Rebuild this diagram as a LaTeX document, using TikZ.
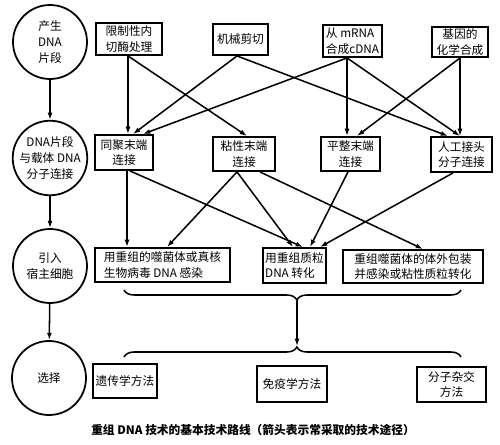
\documentclass[tikz,border=0pt]{standalone}
\usepackage{fontspec}
\setmainfont{Noto Sans CJK SC}
\usetikzlibrary{arrows.meta, decorations.pathreplacing, calc}

\begin{document}
\begin{tikzpicture}[
  x=0.03cm, y=-0.03cm,
  box/.style={draw, line width=1.6pt, align=center, inner sep=1pt, font=\fontsize{10}{13.5}\selectfont},
  stage/.style={draw, circle, line width=1.5pt, minimum size=2.22cm, inner sep=0pt, align=center, font=\fontsize{10}{13.5}\selectfont},
  arr/.style={-{Latex[length=2.2mm, width=1.5mm]}, line width=1.3pt},
  bracket/.style={decorate, line width=1.3pt},
  caption/.style={font=\fontsize{10}{12}\selectfont\bfseries}
]
\useasboundingbox (0,0) rectangle (500,444);

% stages on the left
\node[stage] (produce) at (50,42) {产生\\DNA\\片段};
\node[stage] (join) at (50,158) {DNA片段\\与载体 DNA\\分子连接};
\node[stage] (introduce) at (50,266) {引入\\宿主细胞};
\node[stage] (select) at (49,378) {选择};
\draw[arr] (produce) -- (join);
\draw[arr] (join) -- (introduce);
\draw[arr] (introduce) -- (select);

% ways to get the fragment
\node[box, minimum width=1.98cm, minimum height=0.96cm] (src1) at (129,39) {限制性内\\切酶处理};
\node[box, minimum width=1.65cm, minimum height=0.93cm] (src2) at (240.5,39.5) {机械剪切};
\node[box, minimum width=1.77cm, minimum height=0.96cm, align=left] (src3) at (352.5,41) {从 mRNA\\合成cDNA};
\node[box, minimum width=1.68cm, minimum height=0.90cm] (src4) at (460,42) {基因的\\化学合成};

% ways of joining
\node[box, minimum width=1.74cm, minimum height=1.05cm] (lig1) at (124,152.5) {同聚末端\\连接};
\node[box, minimum width=1.86cm, minimum height=1.02cm] (lig2) at (244,154) {粘性末端\\连接};
\node[box, minimum width=1.77cm, minimum height=1.02cm] (lig3) at (350.5,154) {平整末端\\连接};
\node[box, minimum width=1.83cm, minimum height=1.05cm] (lig4) at (461.5,154.5) {人工接头\\分子连接};

% ways into the host
\node[box, minimum width=4.05cm, minimum height=1.02cm, align=left] (host1) at (162.5,265) {用重组的噬菌体或真核\\生物病毒 DNA 感染};
\node[box, minimum width=1.89cm, minimum height=1.05cm, align=left] (host2) at (294.5,265.5) {用重组质粒\\DNA 转化};
\node[box, minimum width=4.2cm, minimum height=0.99cm] (host3) at (413,266.5) {重组噬菌体的体外包装\\并感染或粘性质粒转化};

% ways of selection
\node[box, minimum width=1.92cm, minimum height=1.02cm] (sel1) at (125,381) {遗传学方法};
\node[box, minimum width=2.1cm, minimum height=1.08cm] (sel2) at (292,384) {免疫学方法};
\node[box, minimum width=2.07cm, minimum height=1.05cm] (sel3) at (451.5,384.5) {分子杂交\\方法};

% row 1 -> row 2
\draw[arr] ($(src1.south)+(-1,0)$) -- ($(lig1.north)+(4,0)$);
\draw[arr] ($(src1.south)+(-1,0)$) -- ($(lig2.north)+(3,0)$);
\draw[arr] ($(src2.south)+(-3.5,0)$) -- ($(lig1.north)+(9,0)$);
\draw[arr] ($(src2.south)+(-3.5,0)$) -- ($(lig4.north)+(-13.5,0)$);
\draw[arr] ($(src3.south)+(-5.5,0)$) -- ($(lig1.north)+(19,0)$);
\draw[arr] ($(src3.south)+(-5.5,0)$) -- ($(lig3.north)+(-3.5,0)$);
\draw[arr] ($(src3.south)+(-5.5,0)$) -- ($(lig4.north)+(-1.5,0)$);
\draw[arr] (src4.south) -- ($(lig3.north)+(6.5,0)$);
\draw[arr] (src4.south) -- ($(lig4.north)+(-1.5,0)$);

% row 2 -> row 3
\draw[arr] ($(lig1.south)+(3,0)$) -- ($(host1.north)+(-35.5,0)$);
\draw[arr] ($(lig1.south)+(6,0)$) -- ($(host2.north)+(8.5,0)$);
\draw[arr] ($(lig2.south)+(-7,0)$) -- ($(host1.north)+(4.5,0)$);
\draw[arr] ($(lig2.south)+(-7,0)$) -- ($(host2.north)+(-1.5,0)$);
\draw[arr] ($(lig2.south)+(16,0)$) -- ($(host3.north)+(10,0)$);
\draw[arr] ($(lig3.south)+(-2.5,0)$) -- ($(host2.north)+(15.5,0)$);
\draw[arr] ($(lig4.south)+(-8.5,0)$) -- ($(host2.north)+(25.5,0)$);

% braces between row 3 and row 4
\draw[bracket, decoration={brace, amplitude=3mm, aspect=0.487}] (461,290) -- (124,290);
\draw[bracket, decoration={brace, amplitude=3mm, aspect=0.513}] (124,357) -- (461,357);
\coordinate (tip1) at (297,300);
\coordinate (tip2) at (297,346);
\draw[arr] (tip1) -- (tip2);

\node[caption] (title) at (253,430) {重组 DNA 技术的基本技术路线（箭头表示常采取的技术途径）};
\end{tikzpicture}
\end{document}
